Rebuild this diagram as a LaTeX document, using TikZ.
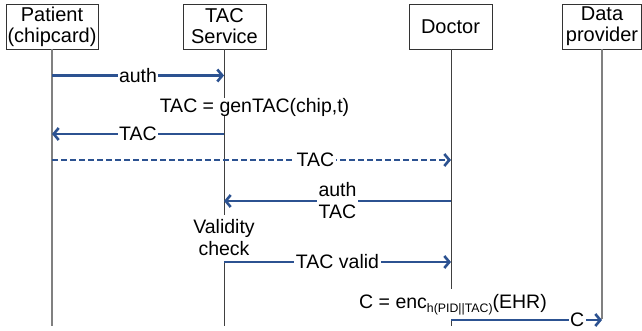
\documentclass[tikz,border=0pt]{standalone}
\usepackage{fontspec}
\setmainfont{Liberation Sans}
\usetikzlibrary{arrows.meta}
\definecolor{msg}{RGB}{44,82,145}
\begin{document}
\begin{tikzpicture}[x=1pt,y=-1pt,
  actor/.style={draw=black!80,line width=0.8pt,fill=white,minimum height=45pt,
    inner sep=0pt,align=center,font=\fontsize{20}{21}\selectfont},
  life/.style={line width=1pt,draw=black!75},
  lifelite/.style={line width=1.6pt,draw=black!50},
  msgline/.style={draw=msg,line width=2.5pt,
    -{Straight Barb[length=5pt,width=12pt,line width=2.6pt]}},
  lbl/.style={fill=white,inner xsep=1.5pt,inner ysep=0pt,
    font=\fontsize{19.5}{22}\selectfont,align=center},
  note/.style={fill=white,inner sep=0pt,font=\fontsize{19.5}{22}\selectfont,align=center}
]
\useasboundingbox (0,0) rectangle (642,331);

% participants
\node[actor,minimum width=92pt] (pat) at (52,26.5) {Patient\\(chipcard)};
\node[actor,minimum width=83pt] (tac) at (224.5,26.5) {TAC\\Service};
\node[actor,minimum width=83pt] (doc) at (450.5,26.5) {Doctor};
\node[actor,minimum width=79pt] (dp)  at (602,26.5) {Data\\provider};

% lifeline ends
\coordinate (patE) at (52,326);
\coordinate (tacE) at (224,326);
\coordinate (docE) at (451,326);
\coordinate (dpE)  at (602,319);

\draw[lifelite] (pat.south) -- (patE);
\draw[life] (tac.south -| tacE) -- (tacE);
\draw[life] (doc.south -| docE) -- (docE);
\draw[lifelite] (dp.south -| dpE) -- (dpE);

% local computations
\node[note] (gen) at (254.5,107) {TAC = genTAC(chip,t)};
\node[note,minimum height=46pt] (chk) at (224,238) {Validity\\check};
\node[note,inner ysep=5.5pt] (enc) at (453,304.5)
  {C = enc\raisebox{-3.5pt}{\fontsize{12.3}{12}\selectfont h(PID||TAC)}(EHR)};

% message end points on the lifelines
\coordinate (m1a) at (52,75.5);   \coordinate (m1b) at (224,75.5);
\coordinate (m2a) at (224,134); \coordinate (m2b) at (52,134);
\coordinate (m3a) at (52,160);  \coordinate (m3b) at (451,160);
\coordinate (m4a) at (451,201); \coordinate (m4b) at (224,201);
\coordinate (m5a) at (224,262); \coordinate (m5b) at (451,262);
\coordinate (m6a) at (451,320); \coordinate (m6b) at (602,320);

% messages
\draw[msgline] (m1a) -- node[lbl] (l1) {auth} (m1b);
\draw[msgline] (m2a) -- node[lbl] (l2) {TAC} (m2b);
\draw[msgline,dash pattern=on 6pt off 3pt] (m3a) -- node[lbl,pos=0.66] (l3) {TAC} (m3b);
\draw[msgline] (m4a) -- node[lbl,pos=0.5] (l4) {auth\\TAC} (m4b);
\draw[msgline] (m5a) -- node[lbl] (l5) {TAC valid} (m5b);
\draw[msgline] (m6a) -- node[lbl,pos=0.835] (l6) {C} (m6b);
\end{tikzpicture}
\end{document}
